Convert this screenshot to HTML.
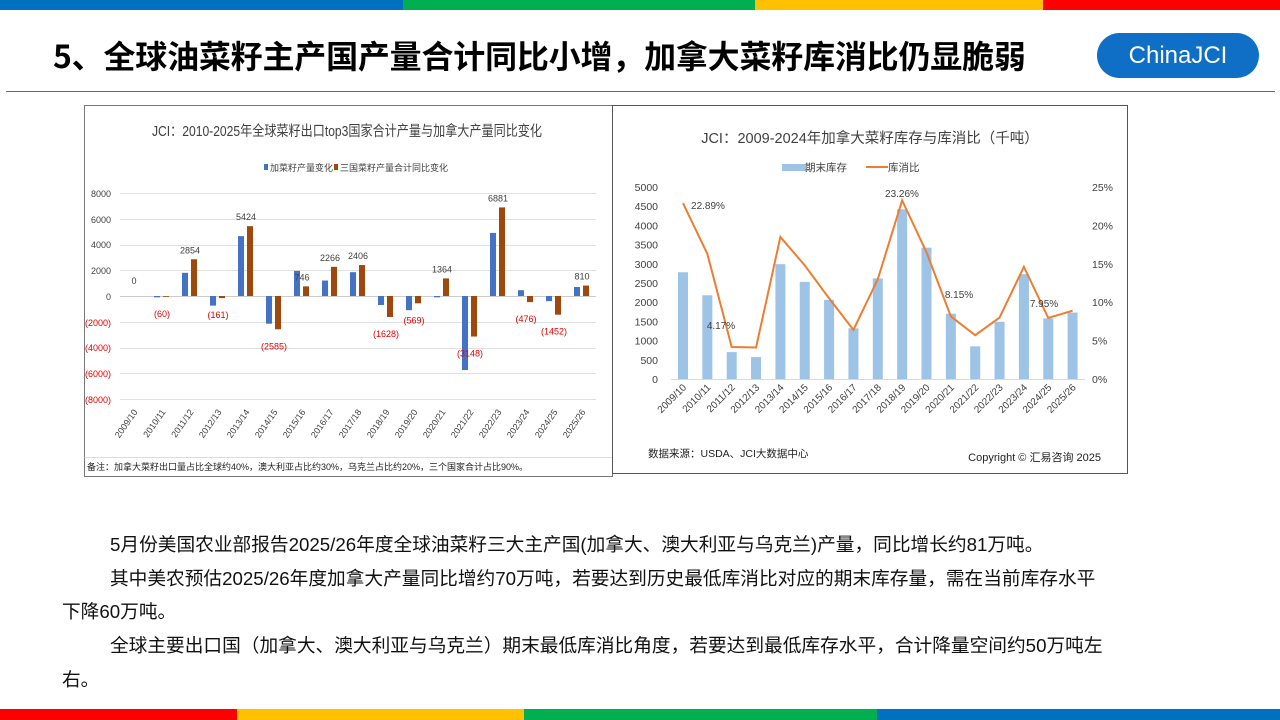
<!DOCTYPE html>
<html><head><meta charset="utf-8"><style>
body{margin:0;width:1280px;height:720px;overflow:hidden;background:#fff;font-family:"Liberation Sans","Noto Sans CJK SC",sans-serif;position:relative}
.p{position:absolute;font-size:18.7px;color:#111;white-space:nowrap}
</style></head><body>
<div style="position:absolute;left:0;top:0;width:403px;height:10px;background:#0070c0"></div>
<div style="position:absolute;left:403px;top:0;width:352px;height:10px;background:#00b050"></div>
<div style="position:absolute;left:755px;top:0;width:288px;height:10px;background:#ffc000"></div>
<div style="position:absolute;left:1043px;top:0;width:237px;height:10px;background:#ff0000"></div>
<div style="position:absolute;left:0;top:709px;width:237px;height:11px;background:#ff0000"></div>
<div style="position:absolute;left:237px;top:709px;width:287px;height:11px;background:#ffc000"></div>
<div style="position:absolute;left:524px;top:709px;width:353px;height:11px;background:#00b050"></div>
<div style="position:absolute;left:877px;top:709px;width:403px;height:11px;background:#0070c0"></div>
<div style="position:absolute;left:53px;top:32px;font-size:32px;font-weight:bold;color:#000;white-space:nowrap;font-family:'Noto Sans CJK SC',sans-serif;letter-spacing:-0.2px">5、全球油菜籽主产国产量合计同比小增，加拿大菜籽库消比仍显脆弱</div>
<div style="position:absolute;left:1097px;top:33px;width:162px;height:45px;border-radius:23px;background:#0f6fc6;color:#fff;font-size:24px;line-height:45px;text-align:center">ChinaJCI</div>
<div style="position:absolute;left:6px;top:91px;width:1269px;height:1px;background:#4a6fa5"></div>

<svg style="position:absolute;left:0;top:0" width="1280" height="720" font-family="Liberation Sans, Noto Sans CJK SC, sans-serif">
<rect x="84.5" y="105.5" width="528" height="371" fill="#fff" stroke="#777"/>
<text x="347" y="136" font-size="14.5" text-anchor="middle" fill="#404040" textLength="390" lengthAdjust="spacingAndGlyphs">JCI：2010-2025年全球菜籽出口top3国家合计产量与加拿大产量同比变化</text>
<rect x="264" y="164" width="4" height="6" fill="#4472c4"/><text x="270" y="171" font-size="9" fill="#404040">加菜籽产量变化</text>
<rect x="334" y="164" width="4" height="6" fill="#9e480e"/><text x="340" y="171" font-size="9" fill="#404040">三国菜籽产量合计同比变化</text>
<g stroke="#e0e0e0" stroke-width="1">
<line x1="120" x2="596" y1="193.5" y2="193.5"/><line x1="120" x2="596" y1="219.5" y2="219.5"/><line x1="120" x2="596" y1="245.5" y2="245.5"/><line x1="120" x2="596" y1="270.5" y2="270.5"/><line x1="120" x2="596" y1="296.5" y2="296.5" stroke="#ccc"/><line x1="120" x2="596" y1="322.5" y2="322.5"/><line x1="120" x2="596" y1="348.5" y2="348.5"/><line x1="120" x2="596" y1="373.5" y2="373.5"/><line x1="120" x2="596" y1="399.5" y2="399.5"/>
</g>
<g font-size="9" text-anchor="end">
<text x="111" y="197" fill="#404040">8000</text><text x="111" y="223" fill="#404040">6000</text><text x="111" y="248" fill="#404040">4000</text><text x="111" y="274" fill="#404040">2000</text><text x="111" y="300" fill="#404040">0</text>
<text x="111" y="326" fill="#e00000">(2000)</text><text x="111" y="351" fill="#e00000">(4000)</text><text x="111" y="377" fill="#e00000">(6000)</text><text x="111" y="403" fill="#e00000">(8000)</text>
</g>
<g id="L"></g>
<rect x="84.5" y="457" width="528" height="1" fill="#ddd"/>
<text x="87" y="470" font-size="9" fill="#222">备注：加拿大菜籽出口量占比全球约40%，澳大利亚占比约30%，乌克兰占比约20%，三个国家合计占比90%。</text>

<rect x="612.5" y="105.5" width="515" height="368" fill="#fff" stroke="#555"/>
<text x="870" y="143" font-size="14.5" text-anchor="middle" fill="#404040">JCI：2009-2024年加拿大菜籽库存与库消比（千吨）</text>
<rect x="782" y="164" width="24" height="7" fill="#9dc3e6"/><text x="805" y="171" font-size="10.5" fill="#404040">期末库存</text>
<line x1="866" x2="888" y1="167" y2="167" stroke="#ed7d31" stroke-width="2"/><text x="888" y="171" font-size="10.5" fill="#404040">库消比</text>
<line x1="671" x2="1085" y1="379.5" y2="379.5" stroke="#d9d9d9"/>
<g font-size="10.5" fill="#404040" text-anchor="end" id="RL"></g>
<g id="R"></g>
<text x="648" y="457" font-size="10.5" fill="#222">数据来源：USDA、JCI大数据中心</text>
<text x="1101" y="461" font-size="11" fill="#222" text-anchor="end">Copyright © 汇易咨询 2025</text>
</svg>

<div class="p" style="left:110px;top:530px">5月份美国农业部报告2025/26年度全球油菜籽三大主产国(加拿大、澳大利亚与乌克兰)产量，同比增长约81万吨。</div>
<div class="p" style="left:110px;top:564px">其中美农预估2025/26年度加拿大产量同比增约70万吨，若要达到历史最低库消比对应的期末库存量，需在当前库存水平</div>
<div class="p" style="left:62px;top:597px">下降60万吨。</div>
<div class="p" style="left:110px;top:631px">全球主要出口国（加拿大、澳大利亚与乌克兰）期末最低库消比角度，若要达到最低库存水平，合计降量空间约50万吨左</div>
<div class="p" style="left:62px;top:665px">右。</div>

<script>
var NS="http://www.w3.org/2000/svg";
function el(p,t,a,txt){var e=document.createElementNS(NS,t);for(var k in a)e.setAttribute(k,a[k]);if(txt!=null)e.textContent=txt;p.appendChild(e);return e;}
var cats=["2009/10","2010/11","2011/12","2012/13","2013/14","2014/15","2015/16","2016/17","2017/18","2018/19","2019/20","2020/21","2021/22","2022/23","2023/24","2024/25","2025/26"];
var L=document.getElementById("L");
var b=[0,-100,1800,-750,4650,-2150,1950,1200,1850,-700,-1100,-100,-5750,4900,450,-400,700];
var o=[0,-60,2854,-161,5424,-2585,746,2266,2406,-1628,-569,1364,-3148,6881,-476,-1452,810];
function ly(v){return 296-v*25.75/2000;}
for(var i=0;i<17;i++){var c=134+28*i;
 var y0=ly(0),y1=ly(b[i]);el(L,"rect",{x:c-8,y:Math.min(y0,y1),width:6,height:Math.abs(y1-y0),fill:"#4472c4"});
 y1=ly(o[i]);el(L,"rect",{x:c+1,y:Math.min(y0,y1),width:6,height:Math.abs(y1-y0),fill:"#9e480e"});
 var s=o[i]<0?"("+(-o[i])+")":""+o[i];
 var ty=o[i]<0?ly(o[i])+20:ly(o[i])-6; if(i==0)ty=ly(0)-12;
 el(L,"text",{x:c,y:ty,"font-size":9,"text-anchor":"middle",fill:o[i]<0?"#e00000":"#404040"},s);
 el(L,"text",{x:0,y:0,"font-size":9,fill:"#404040","text-anchor":"end",transform:"translate("+(c+4)+",412) rotate(-55)"},cats[i]);
}
var R=document.getElementById("R"),RL=document.getElementById("RL");
for(var k=0;k<=10;k++){el(RL,"text",{x:658,y:383-k*19.2},""+k*500);}
for(var k=0;k<=5;k++){el(R,"text",{x:1092,y:383-k*38.4,"font-size":10.5,fill:"#404040"},k*5+"%");}
var bs=[2780,2180,700,570,2990,2530,2060,1320,2620,4420,3420,1700,850,1490,2730,1580,1730];
var pc=[22.89,16.3,4.17,4.1,18.5,14.8,10.5,6.4,13,23.26,16.5,8.15,5.7,8,14.6,7.95,8.9];
var pts=[];
for(var i=0;i<17;i++){var c=683+24.35*i;var h=bs[i]*192/5000;
 el(R,"rect",{x:c-5,y:379-h,width:10,height:h,fill:"#9dc3e6"});
 pts.push(c+","+(379-pc[i]*192/25));
 el(R,"text",{x:0,y:0,"font-size":10,fill:"#404040","text-anchor":"end",transform:"translate("+(c+4)+",388) rotate(-45)"},cats[i]);
}
el(R,"polyline",{points:pts.join(" "),fill:"none",stroke:"#ed7d31","stroke-width":2});
[[708,209,"22.89%"],[721,329,"4.17%"],[902,197,"23.26%"],[959,298,"8.15%"],[1044,307,"7.95%"]].forEach(function(a){el(R,"text",{x:a[0],y:a[1],"font-size":10,fill:"#404040","text-anchor":"middle"},a[2]);});
</script>
</body></html>
